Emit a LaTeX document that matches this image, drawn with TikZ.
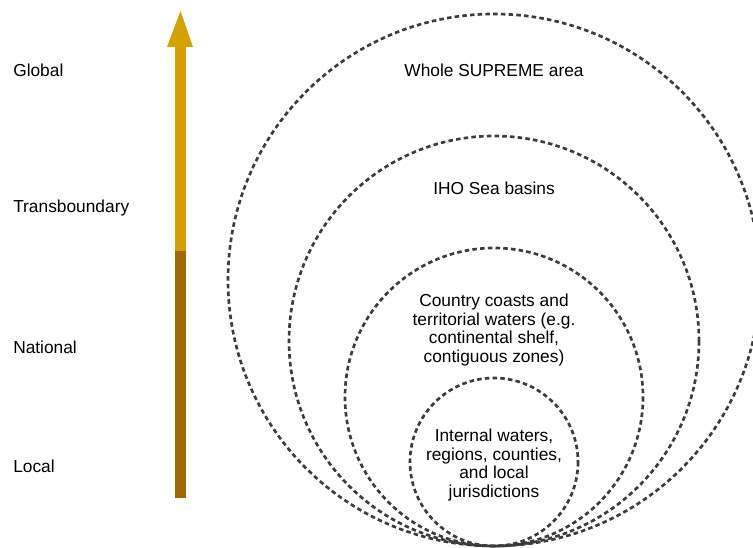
\documentclass[tikz,border=0pt]{standalone}
\usepackage{fontspec}
\setmainfont{Liberation Sans}
\usepackage{tikz}

\definecolor{arrowgold}{RGB}{212,161,0}
\definecolor{arrowbrown}{RGB}{163,104,0}
\definecolor{ringgray}{RGB}{60,60,60}

\tikzset{
  ring/.style={draw=ringgray, line width=2pt, dash pattern=on 3.4pt off 2.4pt},
  scalelabel/.style={anchor=west, inner sep=0.75pt, font=\fontsize{13}{13.8}\selectfont},
  ringlabel/.style={align=center, inner sep=0.75pt, font=\fontsize{13}{13.8}\selectfont}
}

\begin{document}
\begin{tikzpicture}[x=0.75pt,y=0.75pt,yscale=-1,xscale=1]
    \clip (0,0) rectangle (753,548);

    %Shape: Arrow shaft, upper part
    \fill [arrowgold] (175,46) rectangle (186,251) ;
    %Shape: Arrow shaft, lower part
    \fill [arrowbrown] (175,251) rectangle (186,498) ;
    %Shape: Arrow head
    \fill [arrowgold] (167,47) -- (180.5,11) -- (193,47) -- cycle ;

    %Shape: Circle
    \draw [ring] (494,280) circle [radius=266] ;
    %Shape: Circle
    \draw [ring] (494,341) circle [radius=205] ;
    %Shape: Circle
    \draw [ring] (494,397) circle [radius=149] ;
    %Shape: Circle
    \draw [ring] (494,462) circle [radius=84] ;

    % Text Node
    \node [scalelabel] (global) at (12,70) {Global};
    % Text Node
    \node [scalelabel] (transboundary) at (12,208) {Transboundary};
    % Text Node
    \node [scalelabel] (national) at (12,347) {National};
    % Text Node
    \node [scalelabel] (local) at (12,466) {Local};

    % Text Node
    \node [ringlabel] (supreme) at (494,70) {Whole SUPREME area};
    % Text Node
    \node [ringlabel] (iho) at (494,188) {IHO Sea basins};
    % Text Node
    \node [ringlabel] (country) at (494,330) {Country coasts and\\territorial waters (e.g.\\continental shelf,\\contiguous zones)};
    % Text Node
    \node [ringlabel] (internal) at (494,465) {Internal waters,\\regions, counties,\\and local\\jurisdictions};

\end{tikzpicture}
\end{document}
